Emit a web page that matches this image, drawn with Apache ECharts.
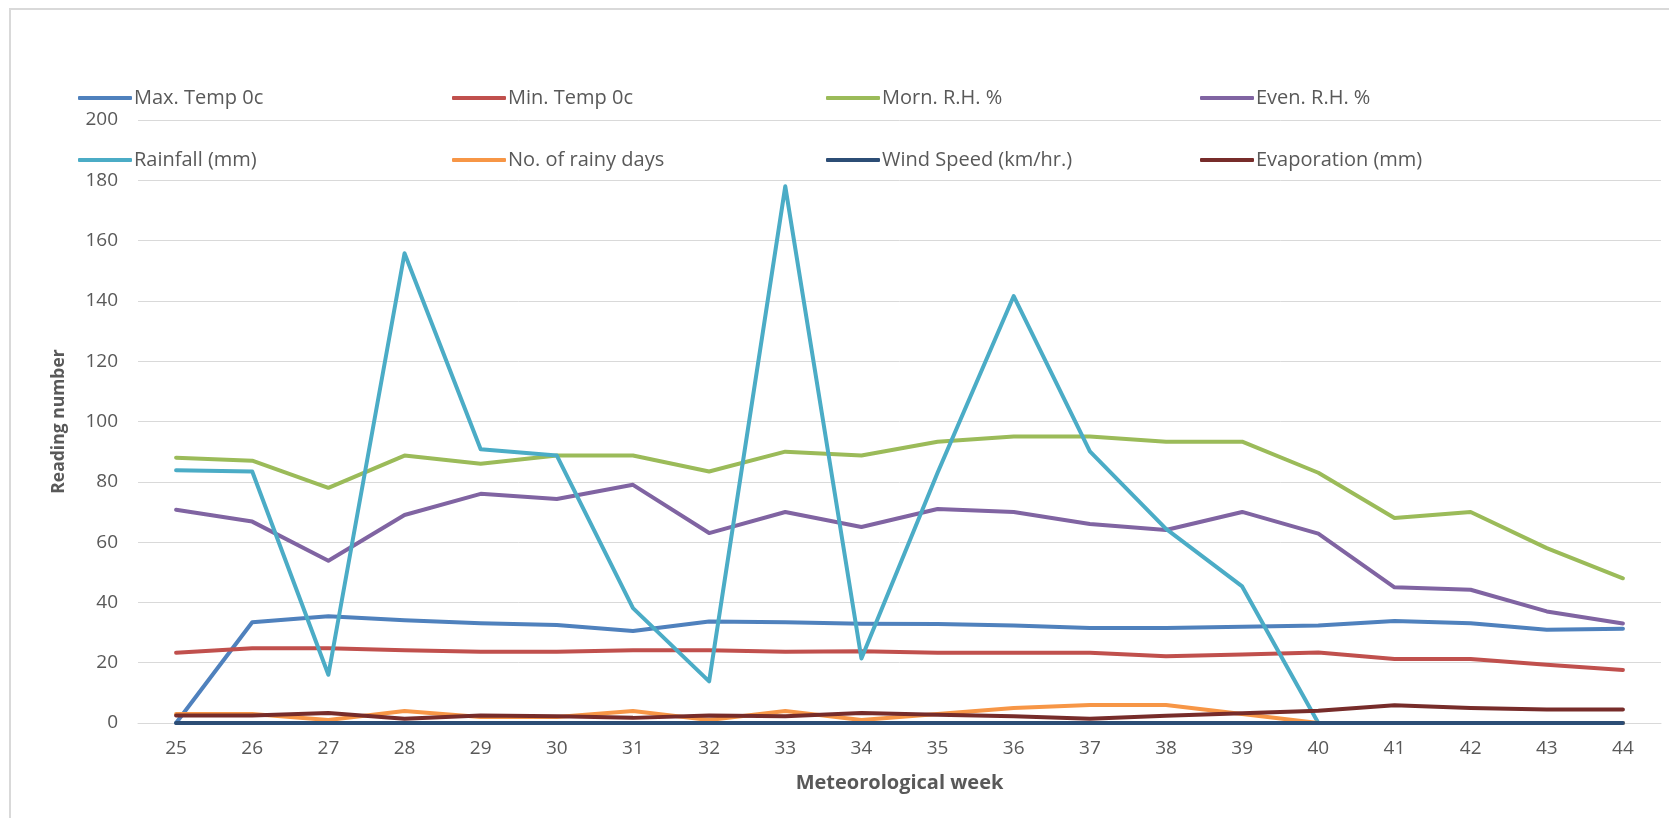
<!DOCTYPE html>
<html>
<head>
<meta charset="utf-8">
<script src="https://cdn.jsdelivr.net/npm/echarts@6/dist/echarts.min.js"></script>
<style>
html,body{margin:0;padding:0;background:#fff;}
#chart{width:1669px;height:818px;}
</style>
</head>
<body>
<div id="chart"></div>
<script>
const weeks = ['25','26','27','28','29','30','31','32','33','34','35','36','37','38','39','40','41','42','43','44'];
const maxTemp   = [0, 33.4, 35.4, 34.1, 33.1, 32.5, 30.5, 33.7, 33.4, 32.9, 32.8, 32.3, 31.5, 31.5, 31.9, 32.3, 33.8, 33.1, 30.9, 31.3];
const minTemp   = [23.3, 24.8, 24.8, 24.1, 23.6, 23.6, 24.1, 24.1, 23.6, 23.8, 23.3, 23.3, 23.3, 22.1, 22.7, 23.4, 21.2, 21.2, 19.3, 17.6];
const mornRH    = [88, 87, 78, 88.7, 86, 88.7, 88.7, 83.4, 90, 88.7, 93.3, 95, 95, 93.3, 93.3, 83, 68, 70, 58, 48];
const evenRH    = [70.7, 66.8, 53.8, 69, 76, 74.3, 79, 63, 70, 65, 71, 70, 66, 64, 70, 62.8, 45, 44.2, 37, 33];
const rainfall  = [83.8, 83.4, 16, 155.8, 90.8, 88.7, 38.1, 13.8, 178, 21.4, 83, 141.6, 90.1, 64.4, 45.3, 0, 0, 0, 0, 0];
const rainyDays = [3, 3, 1, 4, 2, 2, 4, 1, 4, 1, 3, 5, 6, 6, 3, 0, 0, 0, 0, 0];
const windSpeed = [0, 0, 0, 0, 0, 0, 0, 0, 0, 0, 0, 0, 0, 0, 0, 0, 0, 0, 0, 0];
const evaporation = [2.5, 2.5, 3.3, 1.4, 2.5, 2.2, 1.7, 2.5, 2.2, 3.3, 2.7, 2.2, 1.4, 2.4, 3.2, 4.1, 5.9, 5.0, 4.5, 4.5];
const yTicks = [0, 20, 40, 60, 80, 100, 120, 140, 160, 180, 200];

const seriesDefs = [
  {name: 'Max. Temp 0c', data: maxTemp, color: '#4F81BD'},
  {name: 'Min. Temp 0c', data: minTemp, color: '#C0504D'},
  {name: 'Morn. R.H. %', data: mornRH, color: '#9BBB59'},
  {name: 'Even. R.H. %', data: evenRH, color: '#8064A2'},
  {name: 'Rainfall (mm)', data: rainfall, color: '#4BACC6'},
  {name: 'No. of rainy days', data: rainyDays, color: '#F79646'},
  {name: 'Wind Speed (km/hr.)', data: windSpeed, color: '#2C4D75'},
  {name: 'Evaporation (mm)', data: evaporation, color: '#772C2A'}
];

const FONT = "'Open Sans', 'Noto Sans', sans-serif";
const legendX = [78, 452, 826, 1200];
const legendY = [88, 150];

const legends = seriesDefs.map((s, i) => ({
  data: [{name: s.name, icon: 'roundRect', itemStyle: {color: s.color}}],
  left: legendX[i % 4],
  top: legendY[Math.floor(i / 4)],
  itemWidth: 54,
  itemHeight: 4,
  padding: 0,
  textStyle: {fontFamily: FONT, fontSize: 20, color: '#595959', lineHeight: 20, padding: [0,0,0,-3]},
  selectedMode: false
}));

const chart = echarts.init(document.getElementById('chart'), null, {renderer: 'canvas'});
chart.setOption({
  animation: false,
  backgroundColor: '#ffffff',
  color: seriesDefs.map(s => s.color),
  graphic: [{
    type: 'rect',
    shape: {x: 10, y: 9, width: 1700, height: 900},
    style: {fill: 'none', stroke: '#d9d9d9', lineWidth: 2},
    silent: true, z: -10
  }],
  legend: legends,
  grid: {left: 138, right: 8, top: 120, bottom: 95, containLabel: false},
  xAxis: {
    type: 'category',
    data: weeks,
    boundaryGap: true,
    name: 'Meteorological week',
    nameLocation: 'middle',
    nameGap: 50,
    nameTextStyle: {fontFamily: FONT, fontSize: 20, fontWeight: 'bold', color: '#595959'},
    axisLine: {show: true, lineStyle: {color: '#d9d9d9', width: 1}},
    axisTick: {show: false},
    axisLabel: {fontFamily: FONT, fontSize: 19, color: '#595959', margin: 16}
  },
  yAxis: {
    type: 'value',
    min: yTicks[0],
    max: yTicks[yTicks.length - 1],
    interval: yTicks[1] - yTicks[0],
    name: 'Reading number',
    nameLocation: 'middle',
    nameRotate: 90,
    nameGap: 70,
    nameTextStyle: {fontFamily: FONT, fontSize: 17.5, fontWeight: 'bold', color: '#595959'},
    axisLine: {show: false},
    axisTick: {show: false},
    splitLine: {show: true, lineStyle: {color: '#d9d9d9', width: 1}},
    axisLabel: {fontFamily: FONT, fontSize: 19, color: '#595959', margin: 20}
  },
  series: seriesDefs.map(s => ({
    name: s.name,
    type: 'line',
    data: s.data,
    symbol: 'none',
    showSymbol: false,
    lineStyle: {width: 4, color: s.color, cap: 'round', join: 'round'},
    itemStyle: {color: s.color},
    emphasis: {disabled: true}
  }))
});
</script>
</body>
</html>
